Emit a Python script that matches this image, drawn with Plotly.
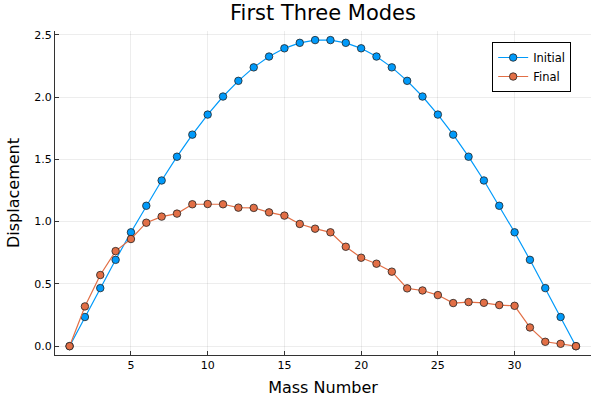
import plotly.graph_objects as go

mass = list(range(1, 35))
initial = [0.0, 0.234, 0.466, 0.693, 0.914, 1.127, 1.330, 1.521, 1.698, 1.859,
           2.004, 2.130, 2.238, 2.325, 2.391, 2.435, 2.457, 2.457, 2.435, 2.391,
           2.325, 2.238, 2.130, 2.004, 1.859, 1.698, 1.521, 1.330, 1.127, 0.914,
           0.693, 0.466, 0.234, 0.0]
final = [0.0, 0.319, 0.571, 0.763, 0.860, 0.991, 1.040, 1.064, 1.139, 1.141,
         1.139, 1.112, 1.110, 1.074, 1.048, 0.981, 0.943, 0.914, 0.798, 0.710,
         0.662, 0.598, 0.464, 0.447, 0.410, 0.346, 0.354, 0.348, 0.330, 0.324,
         0.150, 0.035, 0.019, 0.0]
x_ticks = [5, 10, 15, 20, 25, 30]
y_ticks = [0.0, 0.5, 1.0, 1.5, 2.0, 2.5]

font = "DejaVu Sans"
fig = go.Figure()
fig.add_trace(go.Scatter(x=mass, y=initial, mode="lines+markers", name="Initial",
                         line=dict(color="#009AFA", width=1.2),
                         marker=dict(color="#009AFA", size=7.5, line=dict(color="#222222", width=0.8))))
fig.add_trace(go.Scatter(x=mass, y=final, mode="lines+markers", name="Final",
                         line=dict(color="#E26F46", width=1.2),
                         marker=dict(color="#E26F46", size=7.5, line=dict(color="#222222", width=0.8))))

axis_common = dict(showline=True, linecolor="#333333", linewidth=1, mirror=False,
                   ticks="inside", ticklen=4, tickcolor="#333333", automargin=False,
                   showgrid=True, gridcolor="rgba(0,0,0,0.07)", gridwidth=0.5,
                   zeroline=False, tickfont=dict(family=font, size=11, color="black"))

fig.update_layout(
    width=600, height=400,
    margin=dict(l=55, r=9, t=31, b=45),
    paper_bgcolor="white", plot_bgcolor="white",
    title=dict(text="First Three Modes", x=0.5, xref="paper", xanchor="center",
               y=0.968, yanchor="middle", yref="container",
               font=dict(family=font, size=21, color="black")),
    xaxis=dict(range=[0.05, 34.98], tickvals=x_ticks,
               title=dict(text="Mass Number", font=dict(family=font, size=16, color="black"), standoff=10),
               **axis_common),
    yaxis=dict(range=[-0.071, 2.53], tickvals=y_ticks, tickformat=".1f",
               title=dict(text="Displacement", font=dict(family=font, size=16, color="black"), standoff=10),
               **axis_common),
    legend=dict(x=0.963, y=0.966, xanchor="right", yanchor="top",
                bordercolor="black", borderwidth=1, bgcolor="white",
                font=dict(family=font, size=11.5, color="black"),
                tracegroupgap=0, itemwidth=30),
    showlegend=True,
)

fig.write_html("out.html", config={"displayModeBar": False},
               post_script="document.body.style.margin='0px';document.body.style.overflow='hidden';")
